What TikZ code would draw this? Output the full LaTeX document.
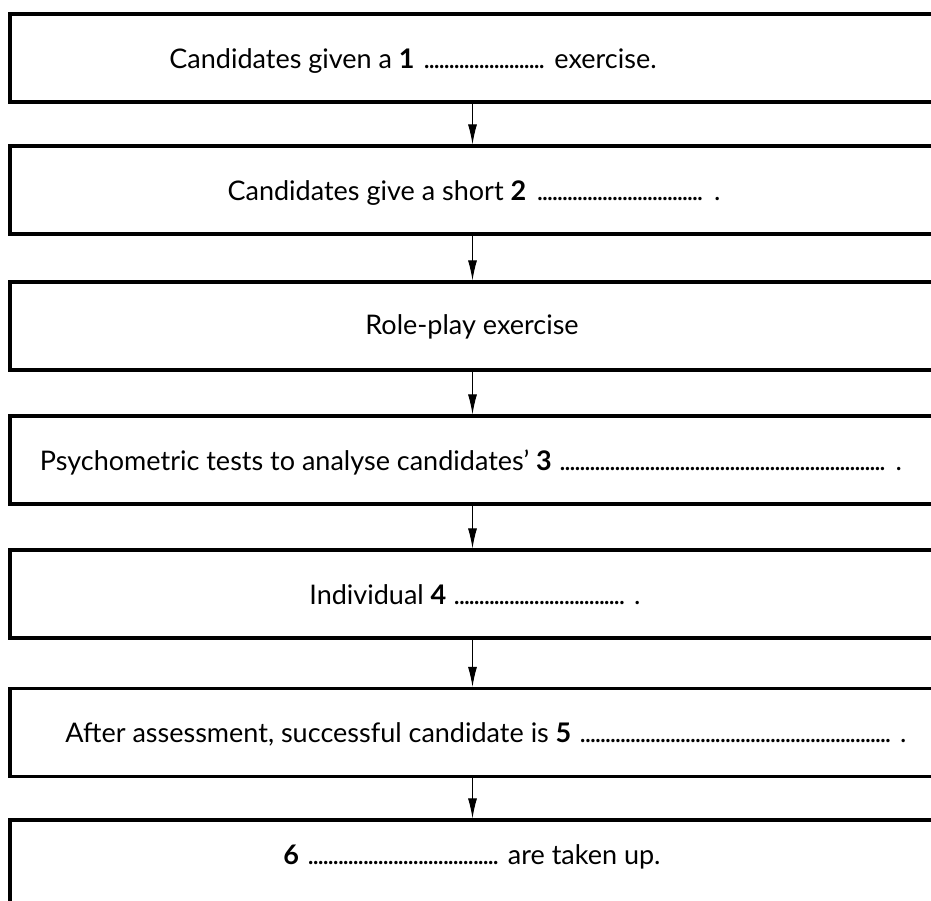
\documentclass[tikz,border=0pt]{standalone}
\usepackage{fontspec}
\setmainfont{Lato}
\usetikzlibrary{arrows.meta}
\newcommand{\blank}[1]{\leaders\hbox to 5pt{\hss.\hss}\hskip #1\relax}
\tikzset{
	stage/.style={draw, line width=3.2pt, minimum width=925pt, minimum height=88pt, inner sep=0pt, outer sep=0pt},
	caption/.style={anchor=base, inner sep=0pt, font=\fontsize{27}{32}\selectfont},
	flow/.style={-{Latex[length=20pt,width=9pt]}, line width=1pt, shorten >=1.6pt},
}
\begin{document}
\begin{tikzpicture}[x=1pt, y=-1pt]
		\useasboundingbox (0,0) rectangle (931,900);
		\clip (0,0) rectangle (931,900);
		\pgfmathsetmacro{\cx}{472.5}
		% the seven stages
		\node[stage] (b1) at (\cx,58) {};
		\node[stage] (b2) at (\cx,190) {};
		\node[stage] (b3) at (\cx,326) {};
		\node[stage] (b4) at (\cx,460) {};
		\node[stage] (b5) at (\cx,594) {};
		\node[stage] (b6) at (\cx,732.5) {};
		\node[stage] (b7) at (\cx,864) {};
		\node[caption] (t1) at (413,68) {Candidates given a \textbf{1} \blank{126pt} exercise.};
		\node[caption] (t2) at (474,200) {Candidates give a short \textbf{2} \blank{174pt} .};
		\node[caption] (t3) at (472,334) {Role-play exercise};
		\node[caption] (t4) at (471,470) {Psychometric tests to analyse candidates' \textbf{3} \blank{330pt} .};
		\node[caption] (t5) at (475,604) {Individual \textbf{4} \blank{174pt} .};
		\node[caption] (t6) at (486,742) {After assessment, successful candidate is \textbf{5} \blank{315pt} .};
		\node[caption] (t7) at (472,864) {\textbf{6} \blank{195pt} are taken up.};
		% arrows between stages
		\draw[flow] (b1) -- (b2);
		\draw[flow] (b2) -- (b3);
		\draw[flow] (b3) -- (b4);
		\draw[flow] (b4) -- (b5);
		\draw[flow] (b5) -- (b6);
		\draw[flow] (b6) -- (b7);
	\end{tikzpicture}
\end{document}
